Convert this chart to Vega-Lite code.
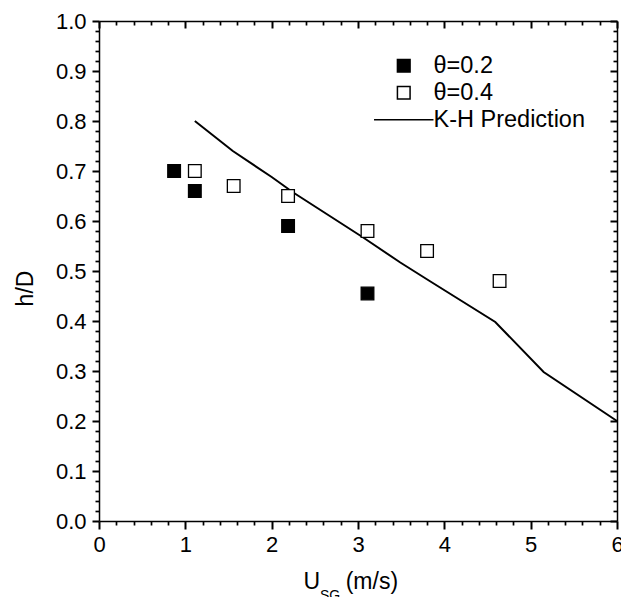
{
  "$schema": "https://vega.github.io/schema/vega-lite/v6.json",
  "width": 518,
  "height": 500,
  "autosize": {"type": "none"},
  "padding": {"left": 99, "top": 21, "right": 4, "bottom": 76},
  "background": "white",
  "config": {
    "view": {"stroke": null},
    "axis": {
      "grid": false,
      "domainColor": "black",
      "domainWidth": 1.5,
      "tickColor": "black",
      "labelFont": "Liberation Sans",
      "labelColor": "black",
      "titleFont": "Liberation Sans",
      "titleColor": "black",
      "titleFontWeight": "normal"
    }
  },
  "datasets": {
    "pts": [
      {"series": "θ=0.2", "u": 0.87, "h": 0.70},
      {"series": "θ=0.2", "u": 1.11, "h": 0.66},
      {"series": "θ=0.2", "u": 2.19, "h": 0.59},
      {"series": "θ=0.2", "u": 3.11, "h": 0.455},
      {"series": "θ=0.4", "u": 1.11, "h": 0.70},
      {"series": "θ=0.4", "u": 1.56, "h": 0.67},
      {"series": "θ=0.4", "u": 2.19, "h": 0.65},
      {"series": "θ=0.4", "u": 3.11, "h": 0.58},
      {"series": "θ=0.4", "u": 3.80, "h": 0.54},
      {"series": "θ=0.4", "u": 4.64, "h": 0.48}
    ],
    "kh": [
      {"u": 1.11, "h": 0.80},
      {"u": 1.55, "h": 0.74},
      {"u": 2.0, "h": 0.688},
      {"u": 2.25, "h": 0.657},
      {"u": 3.06, "h": 0.567},
      {"u": 3.49, "h": 0.517},
      {"u": 3.83, "h": 0.48},
      {"u": 4.59, "h": 0.398},
      {"u": 5.15, "h": 0.298},
      {"u": 6.0, "h": 0.2}
    ],
    "lbl": [{"t": "SG"}]
  },
  "layer": [
    {
      "data": {"name": "kh"},
      "mark": {"type": "line", "color": "black", "strokeWidth": 2},
      "encoding": {
        "x": {
          "field": "u", "type": "quantitative",
          "scale": {"domain": [0, 6], "nice": false, "zero": false},
          "axis": {
            "orient": "bottom", "values": [0, 1, 2, 3, 4, 5, 6], "format": "d",
            "ticks": true, "tickSize": 8, "tickWidth": 2,
            "labelPadding": 5, "labelFontSize": 22,
            "labelFlush": false, "labelOverlap": false,
            "title": "U\u00a0\u00a0\u00a0\u00a0(m/s)", "titleFontSize": 23,
            "titleAlign": "left", "titleX": 204, "titleY": 67, "titleBaseline": "alphabetic"
          }
        },
        "y": {
          "field": "h", "type": "quantitative",
          "scale": {"domain": [0, 1], "nice": false, "zero": false},
          "axis": {
            "orient": "left", "values": [0, 0.1, 0.2, 0.3, 0.4, 0.5, 0.6, 0.7, 0.8, 0.9, 1.0],
            "format": ".1f", "ticks": true, "tickSize": 7, "tickWidth": 2,
            "labelPadding": 6, "labelFontSize": 22,
            "labelFlush": false, "labelOverlap": false,
            "title": "h/D", "titleFontSize": 23, "titleAngle": -90,
            "titleX": -67, "titleY": 267, "titleAlign": "center", "titleBaseline": "alphabetic"
          }
        }
      }
    },
    {
      "data": {"name": "pts"},
      "mark": {"type": "point", "filled": false, "strokeWidth": 1.3, "size": 160, "opacity": 1},
      "encoding": {
        "x": {
          "field": "u", "type": "quantitative",
          "scale": {"domain": [0, 6], "nice": false, "zero": false},
          "axis": {
            "orient": "bottom",
            "values": [0.2, 0.4, 0.6, 0.8, 1.2, 1.4, 1.6, 1.8, 2.2, 2.4, 2.6, 2.8, 3.2, 3.4, 3.6, 3.8, 4.2, 4.4, 4.6, 4.8, 5.2, 5.4, 5.6, 5.8],
            "ticks": true, "tickSize": 4, "tickWidth": 1.7,
            "labels": false, "domain": false, "title": null
          }
        },
        "y": {
          "field": "h", "type": "quantitative",
          "scale": {"domain": [0, 1], "nice": false, "zero": false},
          "axis": {
            "orient": "left",
            "values": [0.02, 0.04, 0.06, 0.08, 0.12, 0.14, 0.16, 0.18, 0.22, 0.24, 0.26, 0.28, 0.32, 0.34, 0.36, 0.38, 0.42, 0.44, 0.46, 0.48, 0.52, 0.54, 0.56, 0.58, 0.62, 0.64, 0.66, 0.68, 0.72, 0.74, 0.76, 0.78, 0.82, 0.84, 0.86, 0.88, 0.92, 0.94, 0.96, 0.98],
            "ticks": true, "tickSize": 4, "tickWidth": 1.7,
            "labels": false, "domain": false, "title": null
          }
        },
        "shape": {
          "field": "series", "type": "nominal",
          "scale": {"domain": ["θ=0.2", "θ=0.4", "K-H Prediction"], "range": ["M-1,-1H1V1H-1Z", "M-1,-1H1V1H-1Z", "M-4.7,0H4.7"]},
          "legend": {
            "title": null, "orient": "none", "legendX": 293, "legendY": 33, "padding": 0,
            "symbolSize": 160, "symbolStrokeWidth": 1.5,
            "labelFont": "Liberation Sans", "labelFontSize": 23.5, "labelColor": "black",
            "labelOffset": 18, "rowPadding": 2, "labelLimit": 300
          }
        },
        "fill": {
          "field": "series", "type": "nominal",
          "scale": {"domain": ["θ=0.2", "θ=0.4", "K-H Prediction"], "range": ["black", "white", "black"]},
          "legend": {
            "title": null, "orient": "none", "legendX": 293, "legendY": 33, "padding": 0,
            "symbolSize": 160, "symbolStrokeWidth": 1.5,
            "labelFont": "Liberation Sans", "labelFontSize": 23.5, "labelColor": "black",
            "labelOffset": 18, "rowPadding": 2, "labelLimit": 300
          }
        },
        "stroke": {
          "field": "series", "type": "nominal",
          "scale": {"domain": ["θ=0.2", "θ=0.4", "K-H Prediction"], "range": ["black", "black", "black"]},
          "legend": {
            "title": null, "orient": "none", "legendX": 293, "legendY": 33, "padding": 0,
            "symbolSize": 160, "symbolStrokeWidth": 1.5,
            "labelFont": "Liberation Sans", "labelFontSize": 23.5, "labelColor": "black",
            "labelOffset": 18, "rowPadding": 2, "labelLimit": 300
          }
        }
      }
    },
    {
      "data": {"name": "kh"},
      "mark": {"type": "line", "opacity": 0},
      "encoding": {
        "x": {
          "field": "u", "type": "quantitative",
          "scale": {"domain": [0, 6], "nice": false, "zero": false},
          "axis": {"orient": "top", "values": [0, 1, 2, 3, 4, 5, 6], "ticks": true, "tickSize": -7, "tickWidth": 2, "labels": false, "title": null}
        },
        "y": {
          "field": "h", "type": "quantitative",
          "scale": {"domain": [0, 1], "nice": false, "zero": false},
          "axis": {"orient": "right", "values": [0, 0.1, 0.2, 0.3, 0.4, 0.5, 0.6, 0.7, 0.8, 0.9, 1.0], "ticks": true, "tickSize": -7, "tickWidth": 2, "labels": false, "title": null}
        }
      }
    },
    {
      "data": {"name": "kh"},
      "mark": {"type": "line", "opacity": 0},
      "encoding": {
        "x": {
          "field": "u", "type": "quantitative",
          "scale": {"domain": [0, 6], "nice": false, "zero": false},
          "axis": {
            "orient": "top",
            "values": [0.2, 0.4, 0.6, 0.8, 1.2, 1.4, 1.6, 1.8, 2.2, 2.4, 2.6, 2.8, 3.2, 3.4, 3.6, 3.8, 4.2, 4.4, 4.6, 4.8, 5.2, 5.4, 5.6, 5.8],
            "ticks": true, "tickSize": -4, "tickWidth": 1.7,
            "labels": false, "domain": false, "title": null
          }
        },
        "y": {
          "field": "h", "type": "quantitative",
          "scale": {"domain": [0, 1], "nice": false, "zero": false},
          "axis": {
            "orient": "right",
            "values": [0.02, 0.04, 0.06, 0.08, 0.12, 0.14, 0.16, 0.18, 0.22, 0.24, 0.26, 0.28, 0.32, 0.34, 0.36, 0.38, 0.42, 0.44, 0.46, 0.48, 0.52, 0.54, 0.56, 0.58, 0.62, 0.64, 0.66, 0.68, 0.72, 0.74, 0.76, 0.78, 0.82, 0.84, 0.86, 0.88, 0.92, 0.94, 0.96, 0.98],
            "ticks": true, "tickSize": -4, "tickWidth": 1.7,
            "labels": false, "domain": false, "title": null
          }
        }
      }
    },
    {
      "data": {"name": "lbl"},
      "mark": {"type": "text", "font": "Liberation Sans", "fontSize": 14, "align": "left", "baseline": "alphabetic", "color": "black"},
      "encoding": {
        "text": {"field": "t", "type": "nominal"},
        "x": {"datum": 2.56, "type": "quantitative", "scale": {"domain": [0, 6], "nice": false, "zero": false}, "axis": null},
        "y": {"datum": -0.158, "type": "quantitative", "scale": {"domain": [0, 1], "nice": false, "zero": false}, "axis": null}
      }
    }
  ],
  "resolve": {"axis": {"x": "independent", "y": "independent"}}
}
